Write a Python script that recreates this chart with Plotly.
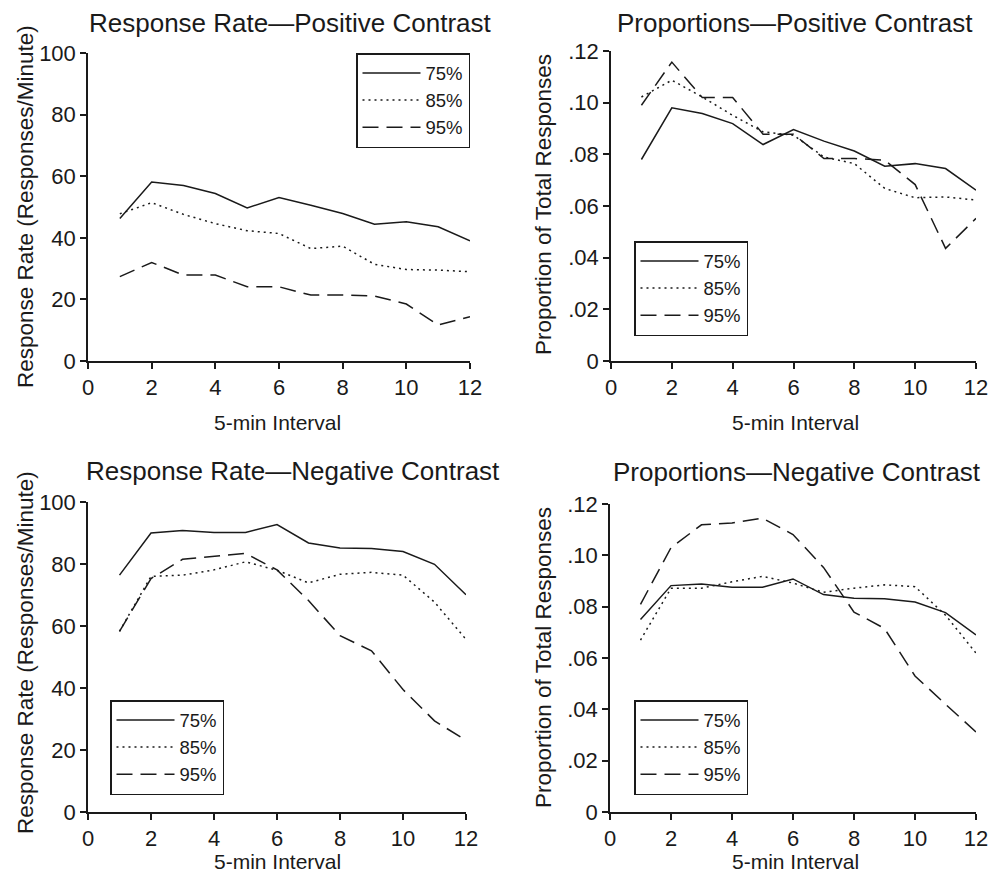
import plotly.graph_objects as go

# The page body has an 8px default margin, so the figure is offset by it
OFF = 8
W, H = 998 - 2 * OFF, 884 - 2 * OFF

intervals = list(range(1, 13))
series_names = ["75%", "85%", "95%"]

rate_pos_75 = [46.3, 58.1, 57.0, 54.4, 49.7, 53.1, 50.6, 47.9, 44.4, 45.2, 43.6, 39.0]
rate_pos_85 = [47.8, 51.4, 47.6, 44.6, 42.3, 41.4, 36.5, 37.3, 31.4, 29.7, 29.5, 29.0]
rate_pos_95 = [27.4, 32.0, 27.9, 27.9, 24.1, 24.1, 21.4, 21.4, 21.1, 18.5, 11.7, 14.4]

prop_pos_75 = [0.078, 0.098, 0.0958, 0.0919, 0.0838, 0.0896, 0.0851, 0.0813, 0.0754, 0.0764, 0.0745, 0.0661]
prop_pos_85 = [0.1022, 0.1087, 0.1022, 0.0951, 0.0887, 0.0874, 0.079, 0.0764, 0.0668, 0.0632, 0.0635, 0.0623]
prop_pos_95 = [0.099, 0.1157, 0.102, 0.102, 0.0878, 0.0878, 0.0784, 0.0784, 0.0777, 0.0683, 0.0436, 0.0552]

rate_neg_75 = [76.4, 90.0, 90.8, 90.2, 90.2, 92.7, 86.8, 85.2, 85.0, 84.0, 79.9, 70.1]
rate_neg_85 = [58.3, 76.0, 76.4, 78.1, 80.7, 78.0, 73.9, 76.7, 77.3, 76.4, 67.7, 55.7]
rate_neg_95 = [58.3, 75.3, 81.5, 82.4, 83.4, 78.1, 68.2, 56.9, 52.0, 39.5, 29.4, 23.1]

prop_neg_75 = [0.075, 0.0882, 0.0888, 0.0876, 0.0876, 0.0908, 0.0847, 0.0833, 0.0831, 0.0818, 0.0777, 0.069]
prop_neg_85 = [0.067, 0.0872, 0.0872, 0.0897, 0.0918, 0.0892, 0.0856, 0.0872, 0.0885, 0.0878, 0.0767, 0.0619]
prop_neg_95 = [0.0809, 0.103, 0.1119, 0.1126, 0.1145, 0.1081, 0.0953, 0.0779, 0.0715, 0.053, 0.042, 0.0312]

x_ticks = [0, 2, 4, 6, 8, 10, 12]
rate_ticks = [0, 20, 40, 60, 80, 100]
prop_ticks = [0, 0.02, 0.04, 0.06, 0.08, 0.10, 0.12]
prop_tick_text = ["0", ".02", ".04", ".06", ".08", ".10", ".12"]

titles = ["Response Rate\u2014Positive Contrast", "Proportions\u2014Positive Contrast",
          "Response Rate\u2014Negative Contrast", "Proportions\u2014Negative Contrast"]
x_title = "5-min Interval"
y_rate_title = "Response Rate (Responses/Minute)"
y_prop_title = "Proportion of Total Responses"

FONT = "Liberation Sans, Arial, Helvetica, sans-serif"
INK = "#1a1a1a"
dashes = ["solid", "2px,4px", "16px,8px"]


def px(x):
    return (x - OFF) / W


def py(y):
    return 1 - (y - OFF) / H


# panel plot areas in page pixels: (left, right, top, bottom)
panels = [
    (88, 470, 53, 361),
    (611, 976, 51, 361),
    (88, 466, 502, 812),
    (610, 976, 504, 812),
]
data = [
    [rate_pos_75, rate_pos_85, rate_pos_95],
    [prop_pos_75, prop_pos_85, prop_pos_95],
    [rate_neg_75, rate_neg_85, rate_neg_95],
    [prop_neg_75, prop_neg_85, prop_neg_95],
]
legend_pos = [(356, 53), (634, 241), (110, 700), (634, 700)]
title_pos = [(290, 23), (795, 23), (293, 471), (797, 472)]
xtitle_pos = [(277, 422), (795, 422), (277, 861), (795, 861)]
ytitle_pos = [(25, 207), (543, 205), (25, 653), (543, 658)]

fig = go.Figure()
layout = dict(
    width=W, height=H, margin=dict(l=0, r=0, t=0, b=0, autoexpand=False),
    paper_bgcolor="white", plot_bgcolor="white",
    font=dict(family=FONT, color=INK, size=20),
    annotations=[],
)

for i, (vals, (l, r, t, b)) in enumerate(zip(data, panels)):
    n = "" if i == 0 else str(i + 1)
    leg = "legend" + n
    for name, v, d in zip(series_names, vals, dashes):
        fig.add_trace(go.Scatter(
            x=intervals, y=v, name=name, mode="lines",
            line=dict(color=INK, width=1.5, dash=d),
            xaxis="x" + n, yaxis="y" + n, legend=leg, cliponaxis=False,
        ))
    is_prop = i in (1, 3)
    axis_common = dict(showline=True, linecolor=INK, linewidth=1.5, ticks="outside",
                       ticklen=6, tickwidth=1.5, tickcolor=INK, showgrid=False,
                       zeroline=False, automargin=False, ticklabeloverflow="allow",
                       tickfont=dict(size=22, family=FONT, color=INK))
    layout["xaxis" + n] = dict(domain=[px(l), px(r)], range=[0, 12], tickvals=x_ticks,
                               anchor="y" + n, **axis_common)
    if is_prop:
        layout["yaxis" + n] = dict(domain=[py(b), py(t)], range=[0, 0.12], tickvals=prop_ticks,
                                   ticktext=prop_tick_text, anchor="x" + n, **axis_common)
    else:
        layout["yaxis" + n] = dict(domain=[py(b), py(t)], range=[0, 100], tickvals=rate_ticks,
                                   anchor="x" + n, **axis_common)
    lx, ly = legend_pos[i]
    layout[leg] = dict(x=px(lx), y=py(ly), xanchor="left", yanchor="top",
                       bordercolor=INK, borderwidth=1.5, bgcolor="white",
                       font=dict(size=18.5, family=FONT, color=INK),
                       itemwidth=58, tracegroupgap=0)
    tx, ty = title_pos[i]
    layout["annotations"].append(dict(text=titles[i], x=px(tx), y=py(ty), xref="paper", yref="paper",
                                      showarrow=False, xanchor="center", yanchor="middle",
                                      font=dict(size=26, family=FONT, color=INK)))
    ax_, ay_ = xtitle_pos[i]
    layout["annotations"].append(dict(text=x_title, x=px(ax_), y=py(ay_), xref="paper", yref="paper",
                                      showarrow=False, xanchor="center", yanchor="middle",
                                      font=dict(size=21, family=FONT, color=INK)))
    yx, yy = ytitle_pos[i]
    layout["annotations"].append(dict(text=y_prop_title if is_prop else y_rate_title,
                                      x=px(yx), y=py(yy), xref="paper", yref="paper",
                                      showarrow=False, xanchor="center", yanchor="middle", textangle=-90,
                                      font=dict(size=22.5, family=FONT, color=INK)))

fig.update_layout(**layout)
fig.write_html("out.html")
